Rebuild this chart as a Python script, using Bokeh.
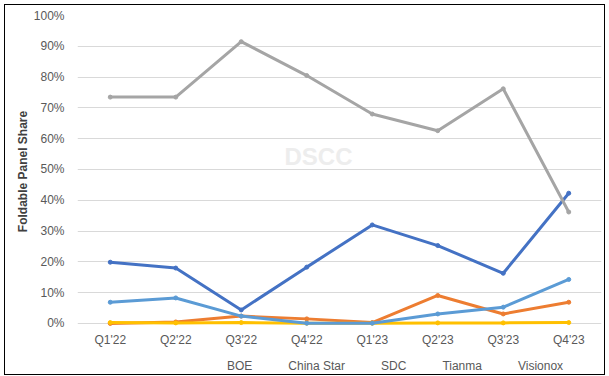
from bokeh.plotting import figure
from bokeh.layouts import column
from bokeh.models import (FactorRange, Range1d, NumeralTickFormatter, Legend,
                          LegendItem, Label, FixedTicker)
from bokeh.embed import file_html
from bokeh.resources import INLINE

quarters = ["Q1'22", "Q2'22", "Q3'22", "Q4'22", "Q1'23", "Q2'23", "Q3'23", "Q4'23"]
boe = [0.199, 0.180, 0.044, 0.183, 0.320, 0.253, 0.163, 0.423]
china_star = [0.000, 0.005, 0.024, 0.015, 0.003, 0.091, 0.031, 0.069]
sdc = [0.735, 0.735, 0.915, 0.805, 0.680, 0.626, 0.762, 0.362]
tianma = [0.003, 0.002, 0.003, 0.001, 0.001, 0.002, 0.002, 0.003]
visionox = [0.069, 0.083, 0.024, 0.001, 0.001, 0.031, 0.053, 0.143]

series_names = ["BOE", "China Star", "SDC", "Tianma", "Visionox"]
series_values = [boe, china_star, sdc, tianma, visionox]
colors = ["#4472C4", "#ED7D31", "#A5A5A5", "#FFC000", "#5B9BD5"]
y_ticks = [0.0, 0.1, 0.2, 0.3, 0.4, 0.5, 0.6, 0.7, 0.8, 0.9, 1.0]

FONT = "Liberation Sans"

p = figure(frame_width=524, frame_height=312,
           x_range=FactorRange(*quarters, range_padding=0),
           y_range=Range1d(-0.013, 1.0), output_backend="svg", toolbar_location=None,
           min_border_left=77, min_border_right=8, min_border_top=15, min_border_bottom=19)
p.outline_line_color = None
p.background_fill_color = None
p.border_fill_color = None

# watermark
p.add_layout(Label(x=241, y=171, x_units="screen", y_units="screen", text="DSCC",
                   text_font=FONT, text_font_style="bold", text_font_size="24px",
                   text_color="#EDEDED", text_align="center", text_baseline="middle"))

for name, vals, c in zip(series_names, series_values, colors):
    p.line(quarters, vals, line_color=c, line_width=3)
    p.scatter(quarters, vals, size=4, fill_color=c, line_color=c)

for ax in (p.xaxis, p.yaxis):
    ax.axis_line_color = None
    ax.major_tick_line_color = None
    ax.minor_tick_line_color = None
    ax.major_tick_out = 0
    ax.major_tick_in = 0
    ax.minor_tick_out = 0
    ax.minor_tick_in = 0

p.yaxis.ticker = FixedTicker(ticks=y_ticks)
p.yaxis.formatter = NumeralTickFormatter(format="0%")
p.yaxis.axis_label = "Foldable Panel Share"
p.yaxis.axis_label_text_font = FONT
p.yaxis.axis_label_text_font_style = "bold"
p.yaxis.axis_label_text_font_size = "12px"
p.yaxis.axis_label_text_color = "#404040"
p.yaxis.axis_label_standoff = 1
p.yaxis.major_label_text_font = FONT
p.yaxis.major_label_text_font_size = "12px"
p.yaxis.major_label_text_color = "#595959"
p.yaxis.major_label_standoff = 13

p.xaxis.major_label_text_font = FONT
p.xaxis.major_label_text_font_size = "12px"
p.xaxis.major_label_text_color = "#595959"
p.xaxis.major_label_standoff = 5
p.xaxis.axis_label_standoff = 0

p.xgrid.grid_line_color = None
p.ygrid.grid_line_color = "#D9D9D9"
p.ygrid.grid_line_width = 1

# legend strip below the chart
lf = figure(width=609, height=30, output_backend="svg", toolbar_location=None,
            x_axis_type=None, y_axis_type=None, min_border=0,
            min_border_left=0, min_border_right=0, min_border_top=0, min_border_bottom=0)
lf.outline_line_color = None
lf.background_fill_color = None
lf.border_fill_color = None
lf.xgrid.visible = False
lf.ygrid.visible = False

items = []
for name, c in zip(series_names, colors):
    r1 = lf.line(x=[], y=[], line_color=c, line_width=3)
    r2 = lf.scatter(x=[], y=[], size=4, fill_color=c, line_color=c)
    items.append(LegendItem(label=name, renderers=[r1, r2]))

legend = Legend(items=items, orientation="horizontal", location=(126, 6),
                label_text_font=FONT, label_text_font_size="12px",
                label_text_color="#595959", glyph_width=22, glyph_height=14,
                label_height=14, label_standoff=2, spacing=12, padding=2, margin=0,
                border_line_color=None, background_fill_alpha=0)
lf.add_layout(legend, "center")

layout = column(p, lf, spacing=0,
                styles={"outline": "1.5px solid #000000", "outline-offset": "-5px",
                        "background-color": "#FFFFFF"})

open("out.html", "w").write(file_html(layout, INLINE))
